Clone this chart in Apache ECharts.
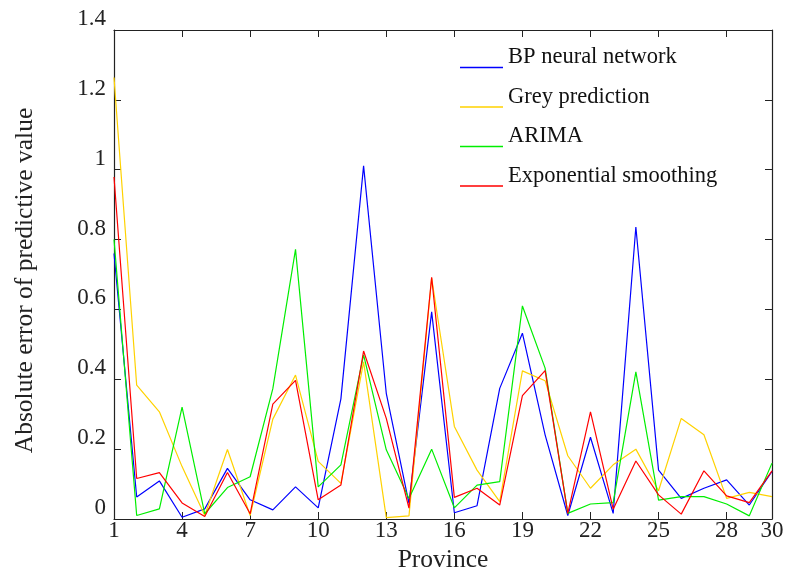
<!DOCTYPE html>
<html>
<head>
<meta charset="utf-8">
<script src="https://cdn.jsdelivr.net/npm/echarts@6/dist/echarts.min.js"></script>
<style>
	html, body { margin: 0; padding: 0; background: #fff; }
	#chart { width: 785px; height: 570px; }
</style>
</head>
<body>
<div id="chart"></div>
<script>
const provinces = []
for (let i = 1; i <= 30; i++) provinces.push(String(i))

const yTicks = [0, 0.2, 0.4, 0.6, 0.8, 1, 1.2, 1.4]

// 各方法预测值绝对误差
const bpData = [0.76, 0.063, 0.109, 0.005, 0.029, 0.145, 0.055, 0.026, 0.092, 0.032,
	0.344, 1.011, 0.360, 0.045, 0.593, 0.018, 0.038, 0.374, 0.532, 0.241,
	0.010, 0.234, 0.016, 0.836, 0.140, 0.059, 0.088, 0.112, 0.040, 0.136]
const greyData = [1.264, 0.383, 0.307, 0.150, 0.010, 0.199, 0.010, 0.286, 0.412, 0.165,
	0.102, 0.450, 0.004, 0.009, 0.690, 0.265, 0.140, 0.050, 0.424, 0.396,
	0.181, 0.088, 0.155, 0.200, 0.081, 0.288, 0.241, 0.059, 0.076, 0.064]
const arimaData = [0.80, 0.010, 0.029, 0.320, 0.015, 0.090, 0.121, 0.373, 0.772, 0.092,
	0.155, 0.470, 0.198, 0.059, 0.200, 0.032, 0.097, 0.107, 0.610, 0.432,
	0.016, 0.043, 0.047, 0.421, 0.054, 0.064, 0.064, 0.043, 0.009, 0.160]
const expData = [0.979, 0.116, 0.133, 0.046, 0.007, 0.133, 0.015, 0.329, 0.397, 0.055,
	0.097, 0.481, 0.288, 0.031, 0.692, 0.062, 0.088, 0.040, 0.353, 0.425,
	0.016, 0.307, 0.028, 0.166, 0.069, 0.014, 0.138, 0.066, 0.047, 0.138]

const seriesNames = ['BP neural network', 'Grey prediction', 'ARIMA', 'Exponential smoothing']
const seriesColors = ['#0000ff', '#ffd200', '#00ee00', '#ff0000']
const seriesData = [bpData, greyData, arimaData, expData]

const FONT = "'Liberation Serif', 'Times New Roman', serif"
const AXIS_COLOR = '#222222'
// 图例线画在文字下方
const LEGEND_ICON = 'path://M0,0L43,0L43,0.01L0,0.01Z M0,20L43,20L43,21.5L0,21.5Z'

// 只显示 1,4,7...28 和 30
const showTick = (idx) => idx % 3 === 0 || idx === provinces.length - 1

const xAxisBase = (position, showLabel) => ({
	type: 'category',
	position: position,
	boundaryGap: false,
	data: provinces,
	axisLine: { onZero: false, lineStyle: { color: AXIS_COLOR, width: 1.2 } },
	axisTick: { inside: true, length: 7, interval: showTick, lineStyle: { color: AXIS_COLOR } },
	axisLabel: {
		show: showLabel,
		interval: showTick,
		margin: 0,
		fontFamily: FONT,
		fontSize: 23,
		color: '#222'
	},
	splitLine: { show: false }
})

const yAxisBase = (position, showLabel) => ({
	type: 'value',
	position: position,
	min: yTicks[0],
	max: yTicks[yTicks.length - 1],
	interval: 0.2,
	axisLine: { show: true, lineStyle: { color: AXIS_COLOR, width: 1.2 } },
	axisTick: { show: true, inside: true, length: 7, lineStyle: { color: AXIS_COLOR } },
	axisLabel: {
		show: showLabel,
		margin: 8,
		verticalAlign: 'bottom',
		lineHeight: 22,
		fontFamily: FONT,
		fontSize: 23,
		color: '#222',
		formatter: (v) => String(+v.toFixed(1))
	},
	splitLine: { show: false }
})

const option = {
	animation: false,
	backgroundColor: '#fff',
	grid: { left: 114, right: 13, top: 30, bottom: 51, outerBoundsMode: 'none', containLabel: false },
	legend: {
		orient: 'vertical',
		left: 455,
		top: 41,
		icon: LEGEND_ICON,
		itemWidth: 43,
		itemHeight: 21.5,
		itemGap: 16.5,
		textStyle: {
			fontFamily: FONT,
			fontSize: 22.5,
			color: '#111'
		},
		data: seriesNames
	},
	xAxis: [
		Object.assign(xAxisBase('bottom', true), {
			name: 'Province',
			nameLocation: 'middle',
			nameGap: 21,
			nameTextStyle: { fontFamily: FONT, fontSize: 25.5, color: '#222' }
		}),
		xAxisBase('top', false)
	],
	yAxis: [
		Object.assign(yAxisBase('left', true), {
			name: 'Absolute error of predictive value',
			nameLocation: 'middle',
			nameGap: 76,
			nameTextStyle: { fontFamily: FONT, fontSize: 25.5, color: '#222', padding: [0, 12, 0, 0] }
		}),
		yAxisBase('right', false)
	],
	series: seriesNames.map((name, i) => ({
		name: name,
		type: 'line',
		data: seriesData[i],
		showSymbol: false,
		color: seriesColors[i],
		lineStyle: { width: 1.2, color: seriesColors[i] }
	}))
}

const myChart = echarts.init(document.getElementById('chart'))
myChart.setOption(option)
</script>
</body>
</html>
